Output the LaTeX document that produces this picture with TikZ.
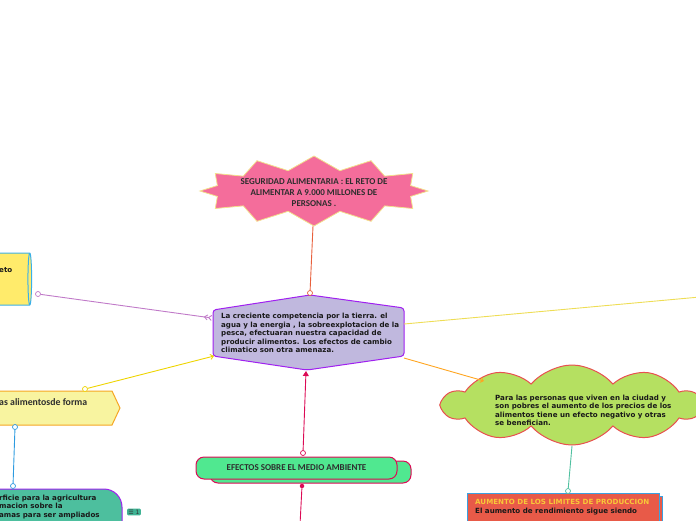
\documentclass[tikz,border=0pt]{standalone}
\usepackage{fontspec}
\setmainfont{DejaVu Sans}
\newfontfamily\titlefont{Carlito}
\newfontfamily\iconfont{DejaVu Sans}
\usetikzlibrary{shapes.geometric,shapes.symbols,arrows.meta}

\definecolor{burstpink}{HTML}{F46D9B}
\definecolor{burstline}{HTML}{F2E08C}
\definecolor{burstred}{HTML}{E8603C}
\definecolor{hubfill}{HTML}{C0B8DE}
\definecolor{hubline}{HTML}{A020F0}
\definecolor{retofill}{HTML}{FFEB6B}
\definecolor{retoline}{HTML}{3BB0E8}
\definecolor{retolink}{HTML}{C07AC8}
\definecolor{formafill}{HTML}{F8F4A0}
\definecolor{formaline}{HTML}{F5A623}
\definecolor{formalink}{HTML}{EED400}
\definecolor{tealfill}{HTML}{4DBF9E}
\definecolor{teallink}{HTML}{2D9BE0}
\definecolor{iconfill}{HTML}{3FB394}
\definecolor{effectfill}{HTML}{50E890}
\definecolor{effectline}{HTML}{DC0A55}
\definecolor{rightlink}{HTML}{EEDD55}
\definecolor{cloudlink}{HTML}{FFA520}
\definecolor{cloudfill}{HTML}{B5E061}
\definecolor{cloudline}{HTML}{E85050}
\definecolor{boxlink}{HTML}{50C0A0}
\definecolor{boxfill}{HTML}{E85A48}
\definecolor{boxline}{HTML}{3BA0E0}
\definecolor{boxtitle}{HTML}{F8C838}

\tikzset{
  body/.style={font=\bfseries\fontsize{7.1}{8.5}\selectfont, align=left, text=black!90, inner sep=0pt},
  title/.style={font=\titlefont\bfseries\fontsize{9}{11}\selectfont, text=black!82, align=center, inner sep=0pt},
  knob/.style={circle, draw, fill=white, line width=0.7pt, inner sep=0pt, minimum size=5pt},
  link/.style={line width=0.9pt},
}

\begin{document}
\begin{tikzpicture}[x=1pt, y=-1pt]
  \useasboundingbox (0,0) rectangle (696,520);
  \clip (0,0) rectangle (696,520);

  % Goal
  \node[starburst, starburst points=12, starburst point height=14pt, random starburst=0,
        fill=burstpink, draw=burstline, line width=0.8pt,
        minimum width=228pt, minimum height=70pt] (goal) at (314,191) {};
  \node[title] (goaltext) at (314,193) {SEGURIDAD ALIMENTARIA : EL RETO DE\\ALIMENTAR A 9.000 MILLONES DE\\PERSONAS .};

  % Hub
  \draw[fill=hubfill, draw=hubline, line width=1pt, rounded corners=3pt]
    (213,310) -- (310,295) -- (404,308) -- (404,356) -- (307,370) -- (213,356) -- cycle;
  \node[body, anchor=west] (hub) at (221,333) {La creciente competencia por la tierra. el\\agua y la energia , la sobreexplotacion de la\\pesca, efectuaran nuestra capacidad de\\producir alimentos. Los efectos de cambio\\climatico son otra amenaza.};
  \coordinate (hubtop) at (310,295);
  \coordinate (hubleft) at (212,318);
  \coordinate (hubright) at (404,324);
  \coordinate (hubsw) at (214,356);
  \coordinate (hubse) at (404,358);
  \coordinate (hubbottom) at (306,371);

  % Reto
  \node[cylinder, aspect=0.55, fill=retofill, draw=retoline, line width=1pt,
        minimum width=52pt, minimum height=38pt] (reto) at (11,279) {};
  \node[body, anchor=west] (retotext) at (-1,270) {eto};

  % Forma
  \draw[fill=formafill, draw=formaline, line width=1pt]
    (-5,391) -- (112,391) -- (120,408) -- (112,425) -- (-5,425) -- cycle;
  \node[title, font=\titlefont\bfseries\fontsize{9.8}{11}\selectfont, anchor=west] (forma) at (-1,402) {as alimentosde forma};

  % Teal box
  \draw[fill=tealfill, draw=hubline, line width=1pt, rounded corners=18pt]
    (-10,489) -- (122,489) -- (122,540) -- (-10,540);
  \node[body, anchor=north west] (teal) at (-1,494.5) {rficie para la agricultura\\macion sobre la\\amas para ser ampliados};
  \node[fill=iconfill, rounded corners=1pt, inner sep=1.2pt,
        font=\iconfont\fontsize{6}{6}\selectfont, text=black!80] (icon) at (134,512) {☰ 1};

  % Effects
  \node[fill=effectfill, draw=effectline, line width=1pt, rounded corners=8pt,
        minimum width=201pt, minimum height=22pt] (effectshadow) at (310.5,472) {};
  \node[fill=effectfill, draw=effectline, line width=1pt, rounded corners=8pt,
        minimum width=201pt, minimum height=22pt, title] (effects) at (296.5,468) {EFECTOS SOBRE EL MEDIO AMBIENTE};

  % City cloud
  \node[cloud, cloud puffs=10, cloud puff arc=100, aspect=3.3, fill=cloudfill, draw=cloudline, line width=1pt,
        minimum width=258pt, minimum height=80pt] (city) at (572,405) {};
  \node[body, anchor=west] (citytext) at (495,410.5) {Para las personas que viven en la ciudad y\\son pobres el aumento de los precios de los\\alimentos tiene un efecto negativo y otras\\se benefician.};

  % Limits box
  \draw[fill=boxfill, draw=boxline, line width=0.8pt] (470,496) rectangle (662,540);
  \draw[fill=boxfill, draw=boxline, line width=0.8pt] (467,493) rectangle (659,540);
  \node[body, anchor=north west] (limits) at (475,499.5) {\textcolor{boxtitle}{AUMENTO DE LOS LIMITES DE PRODUCCION}\\El aumento de rendimiento sigue siendo};

  % Connectors
  \node[knob, draw=burstred] (goalknob) at (310,293) {};
  \draw[link, burstred] (313,226) coordinate (goalbottom) -- (goalknob);

  \node[knob, draw=retolink] (retoknob) at (38,294) {};
  \draw[link, retolink, -{Straight Barb[reversed,length=3pt,width=5pt]Straight Barb[reversed,length=3pt,width=5pt]}] (retoknob) -- (hubleft);

  \coordinate (rightend) at (700,297);
  \draw[link, rightlink] (hubright) -- (rightend);

  \node[knob, draw=formalink] (formaknob) at (85,389) {};
  \draw[link, formalink, -{Straight Barb[length=3pt,width=5pt]}] (formaknob) -- (hubsw);

  \node[knob, draw=teallink] (formaknob2) at (15,427) {};
  \node[knob, draw=teallink] (tealknob) at (13,486) {};
  \draw[link, teallink] (formaknob2) -- (tealknob);

  \node[knob, draw=effectline] (effectknob) at (303,453) {};
  \draw[link, effectline, {Triangle[length=5pt,width=6pt]}-] (hubbottom) -- (effectknob);

  \node[circle, fill=effectline, inner sep=0pt, minimum size=4.5pt] (effectdot) at (302,486) {};
  \coordinate (downend) at (300,525);
  \draw[link, effectline] (effectdot) -- (downend);

  \coordinate (cityin) at (484,381);
  \draw[link, cloudlink, -{Straight Barb[length=3pt,width=5pt]}] (hubse) -- (cityin);

  \node[knob, draw=boxlink] (boxknob) at (568,491) {};
  \draw[link, boxlink] (572,446) coordinate (citybottom) -- (boxknob);
\end{tikzpicture}
\end{document}
